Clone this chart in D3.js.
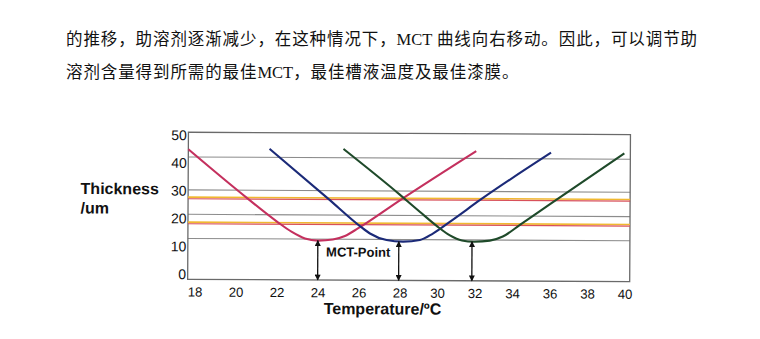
<!DOCTYPE html>
<html><head><meta charset="utf-8">
<script src="https://cdn.jsdelivr.net/npm/d3@7/dist/d3.min.js"></script>
<style>
html,body{margin:0;padding:0;background:#fff;}
svg{display:block;}
</style></head>
<body>
<svg id="chart" width="760" height="339"></svg>
<script>
// ---- data ----
const textLines = [
  ["的推移，助溶剂逐渐减少，在这种情况下，", "MCT", " 曲线向右移动。因此，可以调节助"],
  ["溶剂含量得到所需的最佳", "MCT", "，最佳槽液温度及最佳漆膜。"]
];
const xTicks = [18, 20, 22, 24, 26, 28, 30, 32, 34, 36, 38, 40];
const yTicks = [0, 10, 20, 30, 40, 50];
const xFrame = [17.66, 40.27];
const yFrame = [0, 50];
const gridValues = [41.6, 30.4, 22.1, 13.9];
const limitValues = [27.7, 19.2];

const redTemp  = [17.66, 20.54, 22.0, 22.73, 23.37, 24.0, 24.73, 25.32, 25.95, 28.05, 32.05];
const redThick = [44.2, 27.7, 19.8, 16.3, 14.1, 13.4, 13.8, 15.0, 17.6, 27.5, 44.1];
const blueTemp  = [21.62, 24.49, 26.05, 26.54, 27.35, 28.16, 29.07, 29.76, 30.83, 32.27, 36.04];
const blueThick = [44.5, 27.7, 18.4, 15.9, 13.7, 13.2, 13.8, 16.0, 20.8, 27.5, 43.7];
const greenTemp  = [25.23, 28.0, 29.07, 29.96, 30.67, 31.31, 31.95, 32.8, 33.49, 34.4, 36.0, 39.95];
const greenThick = [44.6, 29.1, 23.3, 18.6, 15.4, 13.7, 13.3, 13.7, 15.1, 19.1, 26.2, 43.6];

const mctTemp = [24.0, 27.95, 31.85];
const mctThick = [13.4, 13.2, 13.3];
const mctLabel = "MCT-Point";
const yTitle = ["Thickness", "/um"];
const xTitle = "Temperature/ºC";

// ---- drawing ----
const svg = d3.select("#chart");

// top paragraph
const para = svg.append("g").attr("font-family", "'Noto Sans CJK SC', sans-serif")
  .attr("font-size", 16.5).attr("fill", "#111");
textLines.forEach((parts, i) => {
  const t = para.append("text").attr("x", 66).attr("y", 45 + i * 32.5).attr("letter-spacing", 0.9);
  parts.forEach(p => {
    const ts = t.append("tspan").text(p);
    if (p === "MCT") ts.attr("font-family", "'Liberation Serif', serif").attr("letter-spacing", 0);
  });
});

const g = svg.append("g").attr("transform", "rotate(0.3, 410, 210)");

const x = d3.scaleLinear().domain([18, 28, 40]).range([195, 400, 625]);
const y = d3.scaleLinear().domain([0, 50]).range([280.5, 133.4]);
const yLab = d3.scaleLinear().domain([0, 50]).range([275.2, 136.2]);

// grid lines
g.append("g").selectAll("line").data(gridValues).join("line")
  .attr("x1", x(xFrame[0])).attr("x2", x(xFrame[1]))
  .attr("y1", d => y(d)).attr("y2", d => y(d))
  .attr("stroke", "#8c8c8c").attr("stroke-width", 1.1);

// frame
g.append("rect")
  .attr("x", x(xFrame[0])).attr("y", y(yFrame[1]))
  .attr("width", x(xFrame[1]) - x(xFrame[0])).attr("height", y(yFrame[0]) - y(yFrame[1]))
  .attr("fill", "none").attr("stroke", "#6a6a6a").attr("stroke-width", 1.3);

// limit lines (yellow over red)
const lim = g.append("g");
lim.selectAll("line.yel").data(limitValues).join("line").attr("class", "yel")
  .attr("x1", x(xFrame[0])).attr("x2", x(xFrame[1]))
  .attr("y1", d => y(d) - 0.7).attr("y2", d => y(d) - 0.7)
  .attr("stroke", "#f0b830").attr("stroke-width", 1.6);
lim.selectAll("line.red").data(limitValues).join("line").attr("class", "red")
  .attr("x1", x(xFrame[0])).attr("x2", x(xFrame[1]))
  .attr("y1", d => y(d) + 0.9).attr("y2", d => y(d) + 0.9)
  .attr("stroke", "#d8505a").attr("stroke-width", 1.2);

// curves
const line = d3.line().x(d => x(d[0])).y(d => y(d[1])).curve(d3.curveMonotoneX);
const series = [
  {t: redTemp, h: redThick, c: "#c4305e"},
  {t: blueTemp, h: blueThick, c: "#1b2a78"},
  {t: greenTemp, h: greenThick, c: "#1f4a2a"}
];
g.append("g").selectAll("path").data(series).join("path")
  .attr("d", s => line(d3.zip(s.t, s.h)))
  .attr("fill", "none").attr("stroke", s => s.c).attr("stroke-width", 2.1)
  .attr("stroke-linejoin", "round");

// arrows
const defs = svg.append("defs");
defs.append("marker").attr("id", "ah").attr("viewBox", "0 0 10 10")
  .attr("refX", 9).attr("refY", 5).attr("markerWidth", 9).attr("markerHeight", 6)
  .attr("markerUnits", "userSpaceOnUse").attr("orient", "auto-start-reverse")
  .append("path").attr("d", "M0,0 L10,5 L0,10 Z").attr("fill", "#111");
g.append("g").selectAll("line").data(d3.zip(mctTemp, mctThick)).join("line")
  .attr("x1", d => x(d[0])).attr("x2", d => x(d[0]))
  .attr("y1", y(0)).attr("y2", d => y(d[1]))
  .attr("stroke", "#111").attr("stroke-width", 1.3)
  .attr("marker-start", "url(#ah)").attr("marker-end", "url(#ah)");

g.append("text").attr("x", (x(mctTemp[0]) + x(mctTemp[1])) / 2).attr("y", y(8))
  .attr("text-anchor", "middle").attr("font-family", "'Liberation Sans', Arial, sans-serif")
  .attr("font-weight", "bold").attr("font-size", 13).attr("fill", "#111").text(mctLabel);

// axes (labels only)
const xAxis = g.append("g").attr("transform", `translate(0,${y(0)})`)
  .call(d3.axisBottom(x).tickValues(xTicks).tickSize(0).tickPadding(7.8).tickFormat(d3.format("d")));
xAxis.select(".domain").remove();
xAxis.selectAll("text").attr("font-family", "'Liberation Sans', Arial, sans-serif").attr("font-size", 13.2).attr("fill", "#111");

const yAxis = g.append("g").attr("transform", `translate(${x(xFrame[0])},0)`)
  .call(d3.axisLeft(yLab).tickValues(yTicks).tickSize(0).tickPadding(1.5).tickFormat(d3.format("d")));
yAxis.select(".domain").remove();
yAxis.selectAll("text").attr("font-family", "'Liberation Sans', Arial, sans-serif").attr("font-size", 14).attr("fill", "#111");

// titles
const yt = g.append("text").attr("font-family", "'Liberation Sans', Arial, sans-serif")
  .attr("font-weight", "bold").attr("font-size", 16).attr("fill", "#111");
yTitle.forEach((s, i) => yt.append("tspan").attr("x", 80.5).attr("y", 195.7 + i * 19.5).text(s));

g.append("text").attr("x", 383).attr("y", 314.5).attr("text-anchor", "middle")
  .attr("font-family", "'Liberation Sans', Arial, sans-serif").attr("font-weight", "bold")
  .attr("font-size", 16).attr("fill", "#111").text(xTitle);
</script>
</body></html>
